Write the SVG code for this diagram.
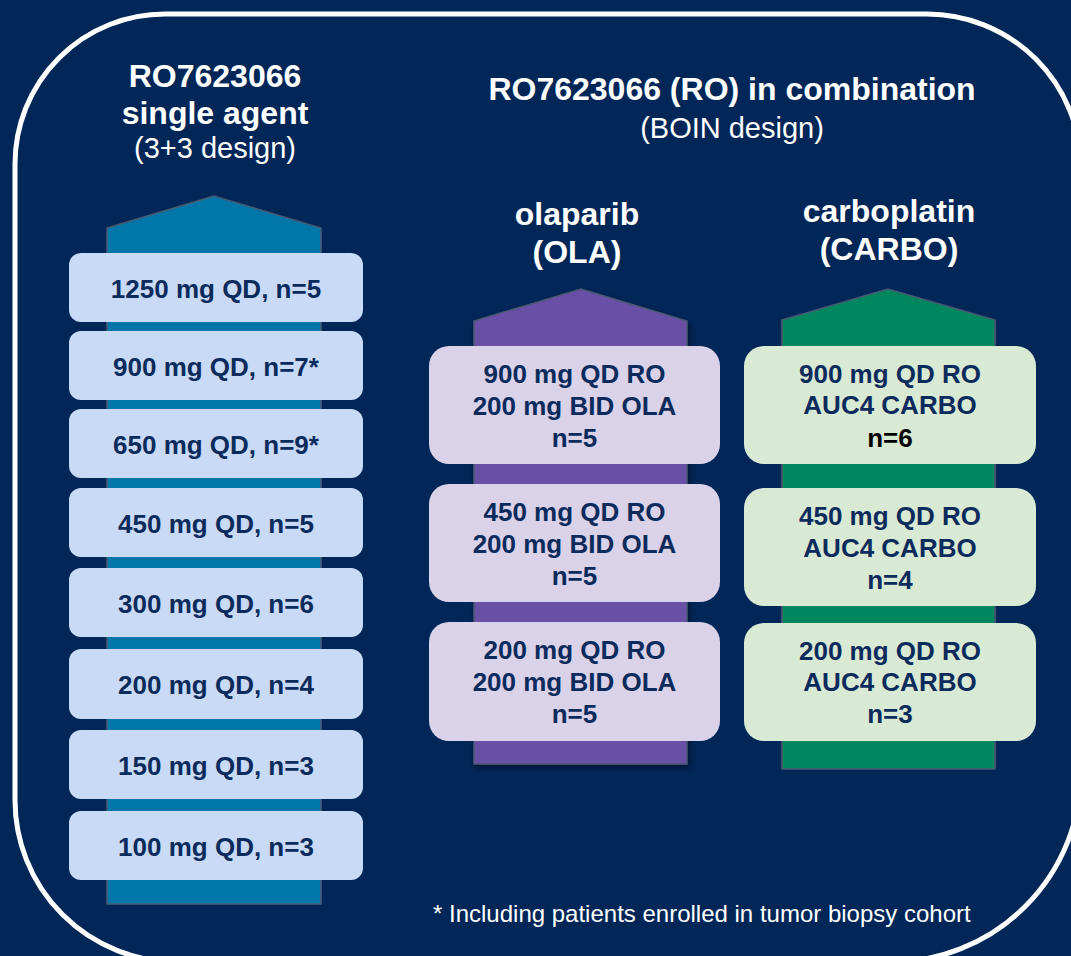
<svg xmlns="http://www.w3.org/2000/svg" width="1071" height="956" viewBox="0 0 1071 956">
  <style>
    text { font-family: "Liberation Sans", Arial, sans-serif; text-anchor: middle; }
    .title { font-size: 32px; font-weight: bold; fill: #ffffff; }
    .sub { font-size: 29px; fill: #ffffff; }
    .bar { stroke: #4a5a75; stroke-width: 1.5; }
    .dose { font-size: 26px; font-weight: bold; fill: #0b2b5c; }
    .box-se { fill: #c9daf6; }
    .box-ola { fill: #d9d2e9; }
    .box-carbo { fill: #d9ead4; }
    .note { font-size: 24px; fill: #ffffff; text-anchor: start; }
  </style>
  <defs>
    <filter id="shadow" x="-10%" y="-10%" width="125%" height="125%">
      <feDropShadow dx="2" dy="3" stdDeviation="3" flood-color="#000000" flood-opacity="0.45"/>
    </filter>
  </defs>

  <!-- background and outer frame -->
  <rect x="0" y="0" width="1071" height="956" fill="#012658"/>
  <path id="frame" d="M165,14 H927 A154,154 0 0 1 1081,168 V772 A190,190 0 0 1 891,962 H177 A162,162 0 0 1 15,800 V164 A150,150 0 0 1 165,14 Z" fill="none" stroke="#ffffff" stroke-width="5"/>

  <!-- headings -->
  <g id="heading-single">
    <text class="title" x="215" y="87">RO7623066</text>
    <text class="title" x="215" y="124">single agent</text>
    <text class="sub" x="215" y="158">(3+3 design)</text>
  </g>
  <g id="heading-combo">
    <text class="title" x="732" y="100">RO7623066 (RO) in combination</text>
    <text class="sub" x="732" y="138">(BOIN design)</text>
  </g>
  <g id="heading-ola">
    <text class="title" x="577" y="225">olaparib</text>
    <text class="title" x="577" y="263">(OLA)</text>
  </g>
  <g id="heading-carbo">
    <text class="title" x="889" y="222">carboplatin</text>
    <text class="title" x="889" y="260">(CARBO)</text>
  </g>

  <!-- escalation arrows -->
  <g id="connectors">
    <path class="bar" d="M107,228 L214,196 L321,228 L321,904 L107,904 Z" fill="#0077a8"/>
    <path class="bar" d="M474,321 L581,289 L687,321 L687,764 L474,764 Z" fill="#6a4fa6" filter="url(#shadow)"/>
    <path class="bar" d="M782,320 L888,289 L995,320 L995,769 L782,769 Z" fill="#00875f"/>
  </g>

  <!-- single agent dose levels -->
  <g id="se-1250"><rect class="box-se" x="69" y="253" width="294" height="69" rx="12"/><text class="dose" x="216" y="298">1250 mg QD, n=5</text></g>
  <g id="se-900"><rect class="box-se" x="69" y="331" width="294" height="69" rx="12"/><text class="dose" x="216" y="376">900 mg QD, n=7*</text></g>
  <g id="se-650"><rect class="box-se" x="69" y="409" width="294" height="69" rx="12"/><text class="dose" x="216" y="454">650 mg QD, n=9*</text></g>
  <g id="se-450"><rect class="box-se" x="69" y="488" width="294" height="69" rx="12"/><text class="dose" x="216" y="533">450 mg QD, n=5</text></g>
  <g id="se-300"><rect class="box-se" x="69" y="568" width="294" height="69" rx="12"/><text class="dose" x="216" y="613">300 mg QD, n=6</text></g>
  <g id="se-200"><rect class="box-se" x="69" y="649" width="294" height="70" rx="12"/><text class="dose" x="216" y="694">200 mg QD, n=4</text></g>
  <g id="se-150"><rect class="box-se" x="69" y="730" width="294" height="69" rx="12"/><text class="dose" x="216" y="775">150 mg QD, n=3</text></g>
  <g id="se-100"><rect class="box-se" x="69" y="811" width="294" height="69" rx="12"/><text class="dose" x="216" y="856">100 mg QD, n=3</text></g>

  <!-- olaparib combination -->
  <g id="ola-900">
    <rect class="box-ola" x="429" y="346" width="291" height="118" rx="20"/>
    <text class="dose" x="574.5" y="383">900 mg QD RO</text>
    <text class="dose" x="574.5" y="415">200 mg BID OLA</text>
    <text class="dose" x="574.5" y="447">n=5</text>
  </g>
  <g id="ola-450">
    <rect class="box-ola" x="429" y="484" width="291" height="118" rx="20"/>
    <text class="dose" x="574.5" y="521">450 mg QD RO</text>
    <text class="dose" x="574.5" y="553">200 mg BID OLA</text>
    <text class="dose" x="574.5" y="585">n=5</text>
  </g>
  <g id="ola-200">
    <rect class="box-ola" x="429" y="622" width="291" height="119" rx="20"/>
    <text class="dose" x="574.5" y="659">200 mg QD RO</text>
    <text class="dose" x="574.5" y="691">200 mg BID OLA</text>
    <text class="dose" x="574.5" y="723">n=5</text>
  </g>

  <!-- carboplatin combination -->
  <g id="carbo-900">
    <rect class="box-carbo" x="744" y="346" width="292" height="118" rx="20"/>
    <text class="dose" x="890" y="383">900 mg QD RO</text>
    <text class="dose" x="890" y="414">AUC4 CARBO</text>
    <text class="dose" x="890" y="447" style="fill:#000000">n=6</text>
  </g>
  <g id="carbo-450">
    <rect class="box-carbo" x="744" y="488" width="292" height="118" rx="20"/>
    <text class="dose" x="890" y="525">450 mg QD RO</text>
    <text class="dose" x="890" y="557">AUC4 CARBO</text>
    <text class="dose" x="890" y="589">n=4</text>
  </g>
  <g id="carbo-200">
    <rect class="box-carbo" x="744" y="623" width="292" height="118" rx="20"/>
    <text class="dose" x="890" y="660">200 mg QD RO</text>
    <text class="dose" x="890" y="691">AUC4 CARBO</text>
    <text class="dose" x="890" y="723">n=3</text>
  </g>

  <!-- footnote -->
  <text id="footnote" class="note" x="433" y="922">* Including patients enrolled in tumor biopsy cohort</text>
</svg>
